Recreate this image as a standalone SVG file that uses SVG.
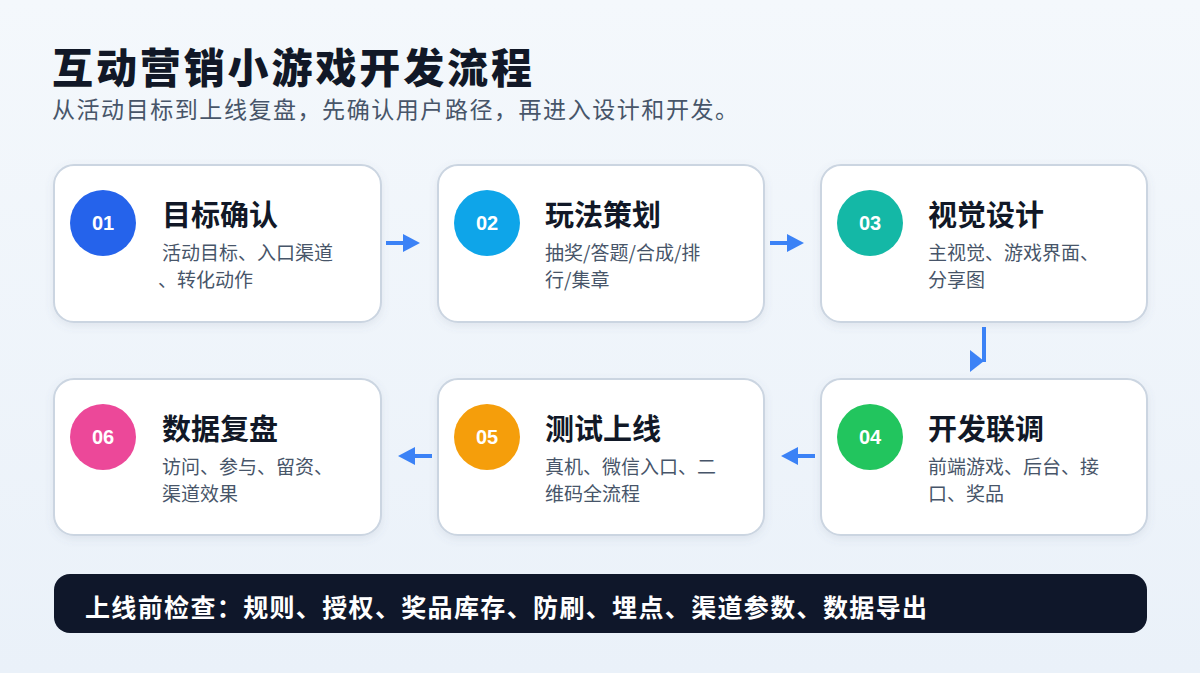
<svg xmlns="http://www.w3.org/2000/svg" width="1200" height="673" viewBox="0 0 1200 673">
<defs>
<linearGradient id="bg" x1="0" y1="0" x2="0" y2="1">
<stop offset="0" stop-color="#f4f8fc"/>
<stop offset="1" stop-color="#eaf1f9"/>
</linearGradient>
<filter id="sh" x="-10%" y="-10%" width="120%" height="130%">
<feDropShadow dx="0" dy="3" stdDeviation="4" flood-color="#64748b" flood-opacity="0.12"/>
</filter>
<style>
.card{fill:#ffffff;stroke:#cbd5e1;stroke-width:2;filter:url(#sh)}
.num{font-family:"Liberation Sans","Noto Sans",sans-serif;font-weight:700;font-size:20px;fill:#ffffff;text-anchor:middle}
.ttl{font-family:"Noto Sans CJK SC","Noto Sans",sans-serif;font-weight:700;font-size:29px;fill:#111827}
.sub{font-family:"Noto Sans CJK SC","Noto Sans",sans-serif;font-size:19px;fill:#475569}
.conn{stroke:#3b82f6;stroke-width:4;fill:none}
.head{fill:#3b82f6}
</style>
</defs>
<rect x="0" y="0" width="1200" height="673" fill="url(#bg)"/>
<g id="header">
<text x="52" y="83" font-family="Noto Sans CJK SC, Noto Sans, sans-serif" font-weight="900" font-size="41" fill="#111827" textLength="480" lengthAdjust="spacing">互动营销小游戏开发流程</text>
<text x="52" y="118" font-family="Noto Sans CJK SC, Noto Sans, sans-serif" font-size="23" fill="#475569" textLength="686" lengthAdjust="spacing">从活动目标到上线复盘，先确认用户路径，再进入设计和开发。</text>
</g>
<g id="node1">
<rect class="card" x="54" y="165" width="327" height="157" rx="20"/>
<circle cx="103" cy="223" r="33" fill="#2563eb"/>
<text class="num" x="103" y="230">01</text>
<text class="ttl" x="162" y="226">目标确认</text>
<text class="sub" x="162" y="260">活动目标、入口渠道</text>
<text class="sub" x="158" y="287">、转化动作</text>
</g>
<g id="node2">
<rect class="card" x="438" y="165" width="326" height="157" rx="20"/>
<circle cx="487" cy="223" r="33" fill="#0ea5e9"/>
<text class="num" x="487" y="230">02</text>
<text class="ttl" x="545" y="226">玩法策划</text>
<text class="sub" x="545" y="260">抽奖/答题/合成/排</text>
<text class="sub" x="545" y="287">行/集章</text>
</g>
<g id="node3">
<rect class="card" x="821" y="165" width="326" height="157" rx="20"/>
<circle cx="870" cy="223" r="33" fill="#14b8a6"/>
<text class="num" x="870" y="230">03</text>
<text class="ttl" x="928" y="226">视觉设计</text>
<text class="sub" x="928" y="260">主视觉、游戏界面、</text>
<text class="sub" x="928" y="287">分享图</text>
</g>
<g id="node4">
<rect class="card" x="821" y="379" width="326" height="156" rx="20"/>
<circle cx="870" cy="437" r="33" fill="#22c55e"/>
<text class="num" x="870" y="444">04</text>
<text class="ttl" x="928" y="440">开发联调</text>
<text class="sub" x="928" y="474">前端游戏、后台、接</text>
<text class="sub" x="928" y="501">口、奖品</text>
</g>
<g id="node5">
<rect class="card" x="438" y="379" width="326" height="156" rx="20"/>
<circle cx="487" cy="437" r="33" fill="#f59e0b"/>
<text class="num" x="487" y="444">05</text>
<text class="ttl" x="545" y="440">测试上线</text>
<text class="sub" x="545" y="474">真机、微信入口、二</text>
<text class="sub" x="545" y="501">维码全流程</text>
</g>
<g id="node6">
<rect class="card" x="54" y="379" width="327" height="156" rx="20"/>
<circle cx="103" cy="437" r="33" fill="#ec4899"/>
<text class="num" x="103" y="444">06</text>
<text class="ttl" x="162" y="440">数据复盘</text>
<text class="sub" x="162" y="474">访问、参与、留资、</text>
<text class="sub" x="162" y="501">渠道效果</text>
</g>
<g id="connectors">
<line class="conn" x1="386" y1="243" x2="404" y2="243"/>
<path class="head" d="M403,234 L420,243 L403,252 Z"/>
<line class="conn" x1="770" y1="243" x2="788" y2="243"/>
<path class="head" d="M787,234 L804,243 L787,252 Z"/>
<line class="conn" x1="984" y1="327" x2="984" y2="362"/>
<path class="head" d="M970,350 L984,361 L970,372 Z"/>
<line class="conn" x1="815" y1="456" x2="797" y2="456"/>
<path class="head" d="M798,447 L781,456 L798,465 Z"/>
<line class="conn" x1="432" y1="456" x2="414" y2="456"/>
<path class="head" d="M415,447 L398,456 L415,465 Z"/>
</g>
<g id="checklist">
<rect x="54" y="574" width="1093" height="59" rx="16" fill="#0f172a"/>
<text x="85" y="617" font-family="Noto Sans CJK SC, Noto Sans, sans-serif" font-weight="700" font-size="25" fill="#ffffff" textLength="842" lengthAdjust="spacing">上线前检查：规则、授权、奖品库存、防刷、埋点、渠道参数、数据导出</text>
</g>
</svg>
